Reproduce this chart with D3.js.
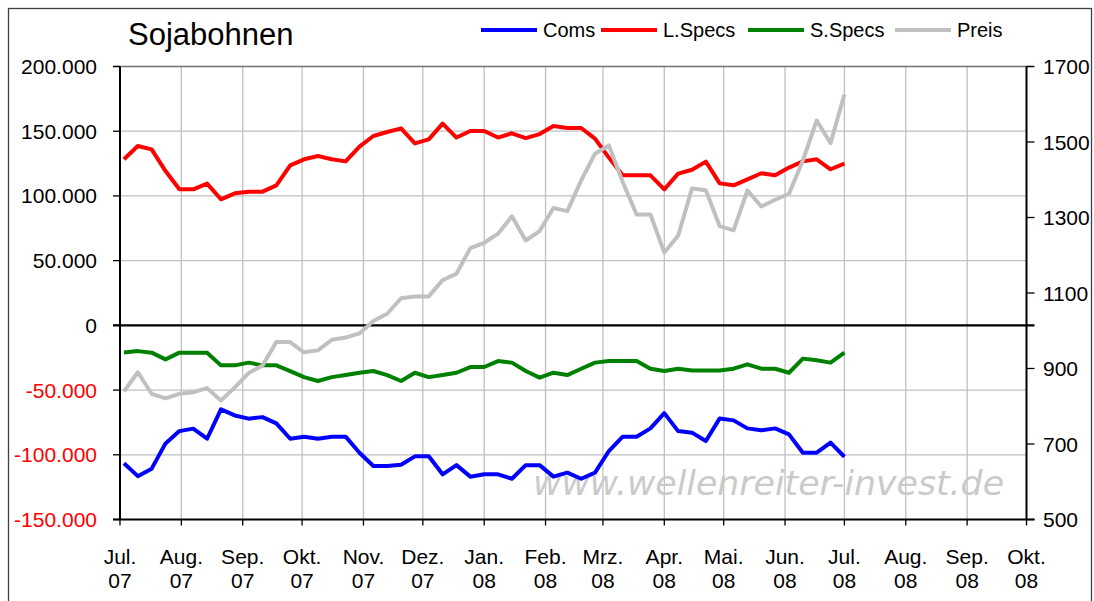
<!DOCTYPE html>
<html>
<head>
<meta charset="utf-8">
<script src="https://cdn.jsdelivr.net/npm/d3@7"></script>
<style>
  body { margin: 0; background: #fff; }
  svg { display: block; font-family: "Liberation Sans", Arial, sans-serif; }
</style>
</head>
<body>
<svg id="chart" width="1094" height="601"></svg>
<script>
const width = 1094;
const height = 601;

// weekly COT dates (Tuesdays) Jul 3 2007 .. Jul 1 2008
const startDate = new Date(Date.UTC(2007, 6, 3));
const endDate = new Date(Date.UTC(2008, 6, 2));

const coms = [-106600, -116500, -110700, -91200, -81700, -79800, -87600, -64900, -69600, -72100,
  -70900, -75700, -87600, -86000, -87600, -86000, -86000, -98400, -108700, -108700,
  -107700, -101200, -101200, -115100, -108000, -116900, -115100, -115100, -118500, -108000,
  -108000, -116900, -113800, -118500, -113800, -97100, -86000, -86000, -79600, -67800,
  -81700, -82900, -89400, -71900, -73400, -79600, -81100, -79600, -84200, -98400,
  -98400, -90600, -101500];

const lSpecs = [128300, 138600, 136000, 119200, 105100, 105100, 109500, 97400, 102000, 103300,
  103300, 108200, 123600, 128300, 130800, 128300, 126700, 138100, 146300, 149400,
  152200, 140600, 143700, 155900, 145100, 150200, 150200, 145100, 148400, 144700,
  147800, 154000, 152500, 152500, 144300, 129600, 115900, 115900, 115900, 105100,
  117200, 120200, 126500, 109700, 108200, 112800, 117500, 115900, 121900, 126700,
  128300, 120600, 125000];

const sSpecs = [-20900, -19900, -21100, -26300, -21100, -21100, -21100, -30900, -30900, -28800,
  -30900, -30900, -35300, -40000, -43000, -40000, -38400, -36600, -35300, -38400,
  -43000, -36600, -40000, -38400, -36600, -32200, -32200, -27600, -28800, -35300,
  -40400, -36600, -38400, -33500, -28800, -27600, -27600, -27600, -33500, -35300,
  -33500, -34800, -34800, -34800, -33500, -30100, -33500, -33500, -36600, -25700,
  -27000, -28800, -21100];

const preis = [839, 890, 833, 821, 833, 837, 848, 815, 850, 888,
  908, 970, 970, 943, 948, 976, 982, 993, 1026, 1045,
  1086, 1091, 1091, 1134, 1151, 1219, 1233, 1257, 1303, 1239,
  1264, 1325, 1317, 1398, 1469, 1491, 1394, 1308, 1308, 1207,
  1252, 1377, 1372, 1277, 1266, 1372, 1329, 1347, 1363, 1451,
  1557, 1497, 1626];

const monthLabels = ["Jul.", "Aug.", "Sep.", "Okt.", "Nov.", "Dez.", "Jan.", "Feb.",
  "Mrz.", "Apr.", "Mai.", "Jun.", "Jul.", "Aug.", "Sep.", "Okt."];
const yearLabels = ["07", "07", "07", "07", "07", "07", "08", "08",
  "08", "08", "08", "08", "08", "08", "08", "08"];

const leftTicks = [-150000, -100000, -50000, 0, 50000, 100000, 150000, 200000];
const rightTicks = [500, 700, 900, 1100, 1300, 1500, 1700];

const series = [
  { name: "Coms", values: coms, color: "#0000ff", axis: "left" },
  { name: "L.Specs", values: lSpecs, color: "#ff0000", axis: "left" },
  { name: "S.Specs", values: sSpecs, color: "#008000", axis: "left" },
  { name: "Preis", values: preis, color: "#c0c0c0", axis: "right" }
];

const dates = d3.utcTuesday.range(startDate, endDate);

const plot = { left: 120, right: 1026.5, top: 66.5, bottom: 519.5 };

const x = d3.scaleUtc()
  .domain([new Date(Date.UTC(2007, 6, 1)), new Date(Date.UTC(2008, 9, 1))])
  .range([plot.left, plot.right]);
const yL = d3.scaleLinear().domain([-150000, 200000]).range([plot.bottom, plot.top]);
const yR = d3.scaleLinear().domain([500, 1700]).range([plot.bottom, plot.top]);

const months = d3.utcMonth.range(new Date(Date.UTC(2007, 6, 1)), new Date(Date.UTC(2008, 9, 2)));

const de = d3.formatLocale({ decimal: ",", thousands: ".", grouping: [3], currency: ["", "€"], minus: "-" });
const fmt = de.format(",.0f");

const svg = d3.select("#chart");

// outer frame
svg.append("rect")
  .attr("x", 8.5).attr("y", 8.5)
  .attr("width", 1083).attr("height", 620)
  .attr("fill", "#fff")
  .attr("stroke", "#404040")
  .attr("stroke-width", 1.3);

// grid
const grid = svg.append("g").attr("stroke", "#c0c0c0").attr("stroke-width", 1.3);
grid.selectAll(".vg")
  .data(months.slice(1, -1))
  .join("line")
  .attr("x1", d => x(d)).attr("x2", d => x(d))
  .attr("y1", plot.top).attr("y2", plot.bottom);
grid.selectAll(".hg")
  .data(leftTicks.filter(d => d !== 0 && d !== -150000 && d !== 200000))
  .join("line")
  .attr("x1", plot.left).attr("x2", plot.right)
  .attr("y1", d => yL(d)).attr("y2", d => yL(d));

// watermark
svg.append("text")
  .attr("x", 533).attr("y", 495)
  .attr("font-family", "DejaVu Sans, Verdana, sans-serif")
  .attr("font-style", "italic")
  .attr("font-size", 33)
  .attr("textLength", 471)
  .attr("lengthAdjust", "spacingAndGlyphs")
  .attr("fill", "#cacaca")
  .text("www.wellenreiter-invest.de");

// top border of plot
svg.append("line")
  .attr("x1", plot.left - 7).attr("x2", plot.right + 7)
  .attr("y1", plot.top).attr("y2", plot.top)
  .attr("stroke", "#707070").attr("stroke-width", 1.3);

// left axis
const axL = svg.append("g");
axL.append("line")
  .attr("x1", plot.left).attr("x2", plot.left)
  .attr("y1", plot.top).attr("y2", plot.bottom)
  .attr("stroke", "#000").attr("stroke-width", 2);
axL.selectAll("line.tick")
  .data(leftTicks)
  .join("line")
  .attr("class", "tick")
  .attr("x1", plot.left - 7).attr("x2", plot.left)
  .attr("y1", d => yL(d)).attr("y2", d => yL(d))
  .attr("stroke", "#000").attr("stroke-width", 1.3);
axL.selectAll("text")
  .data(leftTicks)
  .join("text")
  .attr("x", 97)
  .attr("y", d => yL(d))
  .attr("dy", "0.36em")
  .attr("text-anchor", "end")
  .attr("font-size", 21)
  .attr("fill", d => d < 0 ? "#ff0000" : "#000")
  .text(d => fmt(d));

// right axis
const axR = svg.append("g");
axR.append("line")
  .attr("x1", plot.right).attr("x2", plot.right)
  .attr("y1", plot.top).attr("y2", plot.bottom)
  .attr("stroke", "#000").attr("stroke-width", 2);
axR.selectAll("line.tick")
  .data(rightTicks)
  .join("line")
  .attr("class", "tick")
  .attr("x1", plot.right).attr("x2", plot.right + 8)
  .attr("y1", d => yR(d)).attr("y2", d => yR(d))
  .attr("stroke", "#000").attr("stroke-width", 1.3);
axR.selectAll("text")
  .data(rightTicks)
  .join("text")
  .attr("x", 1043)
  .attr("y", d => yR(d))
  .attr("dy", "0.36em")
  .attr("font-size", 21)
  .attr("fill", "#000")
  .text(d => d);

// bottom axis
const axB = svg.append("g");
axB.append("line")
  .attr("x1", plot.left - 7).attr("x2", plot.right + 8)
  .attr("y1", plot.bottom).attr("y2", plot.bottom)
  .attr("stroke", "#000").attr("stroke-width", 2);
axB.selectAll("line.tick")
  .data(months)
  .join("line")
  .attr("class", "tick")
  .attr("x1", d => x(d)).attr("x2", d => x(d))
  .attr("y1", plot.bottom).attr("y2", plot.bottom + 6)
  .attr("stroke", "#000").attr("stroke-width", 1.3);
const lab = axB.selectAll("g.lab")
  .data(months)
  .join("g")
  .attr("class", "lab")
  .attr("transform", d => `translate(${x(d)},0)`);
lab.append("text")
  .attr("y", 564)
  .attr("text-anchor", "middle")
  .attr("font-size", 21)
  .text((d, i) => monthLabels[i]);
lab.append("text")
  .attr("y", 588)
  .attr("text-anchor", "middle")
  .attr("font-size", 21)
  .text((d, i) => yearLabels[i]);

// zero line
svg.append("line")
  .attr("x1", plot.left - 7).attr("x2", plot.right + 8)
  .attr("y1", yL(0)).attr("y2", yL(0))
  .attr("stroke", "#000").attr("stroke-width", 2.2);

// series
series.forEach(s => {
  const y = s.axis === "left" ? yL : yR;
  const line = d3.line()
    .x((d, i) => x(dates[i]))
    .y(d => y(d));
  svg.append("path")
    .datum(s.values)
    .attr("d", line)
    .attr("fill", "none")
    .attr("stroke", s.color)
    .attr("stroke-width", 4)
    .attr("stroke-linejoin", "round");
});

// title
svg.append("text")
  .attr("x", 128).attr("y", 45)
  .attr("font-size", 31)
  .text("Sojabohnen");

// legend
const legendX = [481, 601, 748, 895];
const leg = svg.append("g");
series.forEach((s, i) => {
  leg.append("line")
    .attr("x1", legendX[i]).attr("x2", legendX[i] + 56)
    .attr("y1", 30).attr("y2", 30)
    .attr("stroke", s.color).attr("stroke-width", 4);
  leg.append("text")
    .attr("x", legendX[i] + 62).attr("y", 37)
    .attr("font-size", 20)
    .text(s.name);
});
</script>
</body>
</html>
